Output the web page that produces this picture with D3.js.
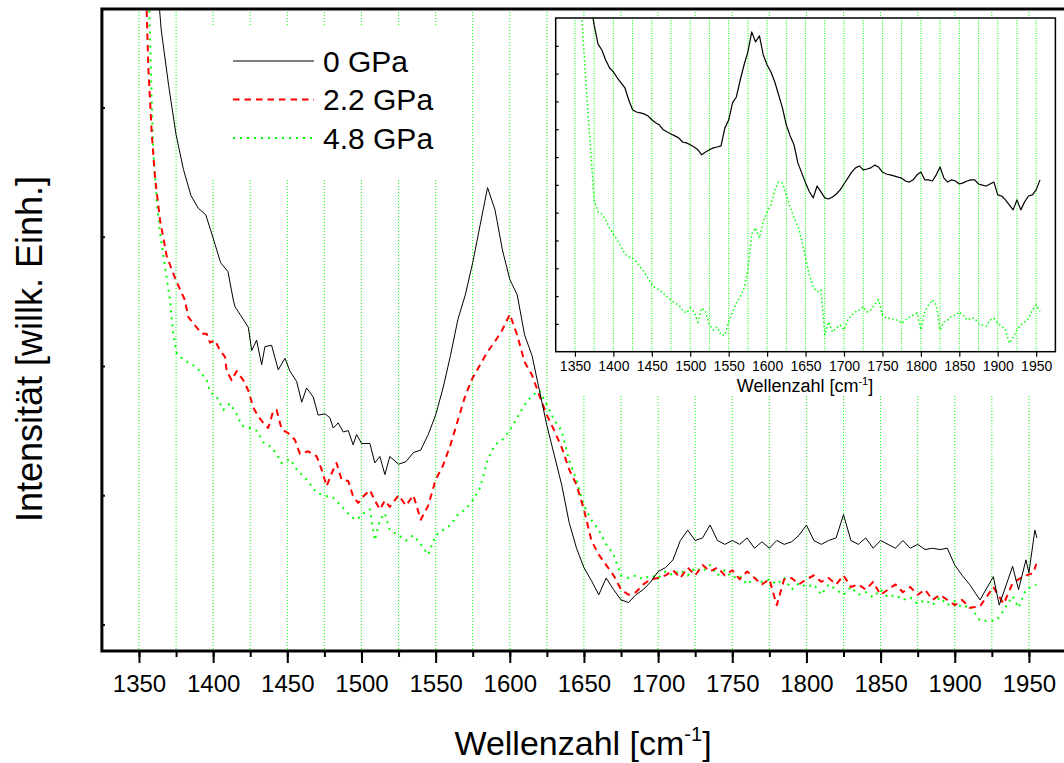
<!DOCTYPE html>
<html>
<head>
<meta charset="utf-8">
<script src="https://cdn.jsdelivr.net/npm/d3@7"></script>
<style>
  body { margin: 0; background: #fff; }
  svg { display: block; }
  text { font-family: "Liberation Sans", Arial, Helvetica, sans-serif; fill: #000; }
</style>
</head>
<body>
<svg id="chart" width="1064" height="763"></svg>
<script>
// Raman spectra of the sample at three pressures (arbitrary intensity units)

// 0 GPa
const wn0GPa = [
  1355,1360,1365,1370,1375,1380,1385,1390,1395,1400,1405,1410,
  1413.6,1414.7,1419.2,1423.7,1426.0,1429.3,1432.7,1434.9,1439.4,1443.9,1448.4,1451.8,1456.3,1459.7,
  1463.0,1467.5,1470.8,1475.4,1478.7,1481.0,1484.3,1487.7,1491.1,1494.4,1496.7,1500.1,1505.7,1509.0,
  1512.4,1515.8,1519.1,
  1525,1530,1535,1540,1545,1550,1555,1560,1565,1570,1575,1580,1585,1590,1595,1600,1605,1610,1615,1620,
  1625,1630,1635,1640,1645,1650,1655,1660,1665,1670,1675,1680,1685,1690,1695,1700,1705,1710,1715,1720,
  1725,1730,1735,1740,1745,1750,1755,1760,1765,1770,1775,1780,1785,1790,1795,1800,1805,1810,1815,1820,
  1825,1830,1835,1840,1845,1850,1855,1860,1865,1870,1875,1880,1885,1890,1895,1900,1905,1910,
  1917,1926,1930,1939,1943,1948,1950,1954,1955.4
];
const int0GPa = [
  7.00,6.30,5.60,5.17,4.79,4.52,4.32,4.22,4.17,3.99,3.80,3.73,
  3.51,3.46,3.38,3.30,3.12,3.20,3.01,3.15,3.16,2.97,3.06,2.96,2.88,2.72,
  2.83,2.76,2.62,2.63,2.60,2.52,2.56,2.49,2.50,2.39,2.47,2.40,2.40,2.25,
  2.30,2.16,2.30,
  2.24,2.26,2.33,2.35,2.47,2.62,2.83,3.08,3.36,3.55,3.80,4.09,4.38,4.21,3.90,3.67,3.55,3.24,3.08,2.81,
  2.54,2.31,2.08,1.79,1.59,1.44,1.34,1.23,1.36,1.27,1.19,1.17,1.23,1.27,1.33,1.41,1.44,1.50,1.65,1.73,
  1.65,1.67,1.77,1.65,1.62,1.65,1.62,1.67,1.59,1.64,1.59,1.65,1.62,1.64,1.69,1.77,1.65,1.62,1.65,1.67,
  1.85,1.65,1.62,1.67,1.59,1.65,1.62,1.59,1.65,1.59,1.62,1.58,1.59,1.58,1.59,1.46,1.38,1.31,
  1.19,1.37,1.15,1.45,1.27,1.50,1.40,1.73,1.67
];

// 2.2 GPa
const wn22GPa = [
  1355.2,1356.3,1358.6,1360.8,1364.2,1368.7,1375,
  1381.0,1383.2,1386.6,1392.3,1395.6,1397.9,1401.2,1404.6,1408.0,1409.1,1412.5,1415.8,1420.3,1423.7,
  1427.0,1430.4,1433.8,1437.1,1440.5,1442.8,1446.2,1450.6,1455.1,1458.5,1464.1,1469.8,1473.1,1476.5,
  1479.9,1483.2,1486.6,1491.1,1494.4,1497.8,1501.2,1505.7,1509.0,1512.4,1515.8,1519.1,
  1525,1530,1535,1540,1545,1550,1555,1560,1565,1570,1575,1580,1585,1590,1595,1600,1605,1610,1615,1620,
  1625,1630,1635,1640,1645,1650,1655,1660,1665,1670,1675,1680,1685,1690,1695,1700,1705,1710,1715,1720,
  1725,1730,1735,1740,1745,1750,1755,1760,1765,1770,1775,1780,1785,1790,1795,1800,1805,1810,1815,1820,
  1825,1830,1835,1840,1845,1850,1855,1860,1865,1870,1875,1880,1885,1890,1895,1900,1905,1910,
  1917,1926,1933,1939,1946,1953,1955
];
const int22GPa = [
  5.75,5.31,4.80,4.46,4.13,3.85,3.66,
  3.51,3.38,3.33,3.25,3.25,3.18,3.20,3.12,3.07,2.96,2.89,2.96,2.89,2.81,
  2.68,2.61,2.56,2.52,2.65,2.66,2.51,2.48,2.43,2.32,2.34,2.30,2.20,2.07,
  2.17,2.25,2.12,2.11,1.99,1.94,1.99,2.04,1.96,1.89,1.96,1.91,
  2.00,1.92,2.00,1.81,1.92,2.12,2.23,2.39,2.58,2.77,2.91,3.01,3.11,3.19,3.28,3.40,3.24,3.03,2.93,2.77,
  2.62,2.50,2.37,2.20,2.08,1.89,1.65,1.54,1.46,1.38,1.27,1.23,1.25,1.31,1.35,1.36,1.38,1.42,1.36,1.44,
  1.38,1.46,1.41,1.44,1.38,1.42,1.35,1.41,1.36,1.31,1.35,1.15,1.35,1.36,1.31,1.35,1.38,1.33,1.36,1.31,
  1.38,1.29,1.31,1.27,1.33,1.23,1.27,1.31,1.25,1.29,1.23,1.27,1.19,1.23,1.19,1.15,1.19,1.13,
  1.14,1.29,1.16,1.32,1.37,1.40,1.47
];

// 4.8 GPa
const wn48GPa = [
  1357.0,1358.6,1359.6,1361.9,1364.2,
  1370.9,1373.1,1375.4,1379.9,1384.4,1388.9,1392.3,1395.6,1397.9,1402.4,1406.8,1411.3,1415.8,1419.2,
  1424.8,1429.3,1433.8,1439.4,1442.8,1446.2,1451.8,1456.3,1463.0,1469.8,1474.2,1481.0,1487.7,1493.4,
  1496.7,1501.2,1505.7,1507.9,1509.0,1512.4,1515.8,1519.1,
  1525,1530,1535,1540,1545,1550,1555,1560,1565,1570,1575,1580,1585,1590,1595,1600,1605,1610,1615,1620,
  1625,1630,1635,1640,1645,1650,1655,1660,1665,1670,1675,1680,1685,1690,1695,1700,1705,1710,1715,1720,
  1725,1730,1735,1740,1745,1750,1755,1760,1765,1770,1775,1780,1785,1790,1795,1800,1805,1810,1815,1820,
  1825,1830,1835,1840,1845,1850,1855,1860,1865,1870,1875,1880,1885,1890,1895,1900,1905,1910,
  1917,1928,1933,1939,1943,1948,1955
];
const int48GPa = [
  5.75,5.06,4.67,4.28,4.03,
  3.51,3.25,3.10,3.05,3.02,2.99,2.94,2.89,2.80,2.76,2.66,2.71,2.63,2.54,
  2.52,2.50,2.41,2.37,2.32,2.25,2.28,2.20,2.12,2.02,2.00,1.98,1.90,1.83,
  1.81,1.86,1.89,1.73,1.65,1.81,1.86,1.73,
  1.69,1.65,1.69,1.62,1.54,1.69,1.73,1.77,1.85,1.89,1.96,2.06,2.27,2.39,2.43,2.50,2.60,2.70,2.77,2.81,
  2.70,2.58,2.50,2.27,2.12,1.92,1.81,1.73,1.62,1.54,1.38,1.36,1.38,1.35,1.38,1.36,1.41,1.38,1.42,1.38,
  1.44,1.41,1.46,1.38,1.42,1.36,1.38,1.31,1.36,1.33,1.35,1.31,1.36,1.27,1.32,1.29,1.31,1.23,1.31,1.27,
  1.23,1.29,1.23,1.25,1.21,1.27,1.21,1.23,1.19,1.21,1.16,1.19,1.15,1.21,1.15,1.18,1.13,1.15,
  1.03,1.03,1.11,1.22,1.13,1.27,1.31
];

// Inset: 0 GPa and 4.8 GPa spectra, each scaled separately
const insetWavenumbers = [
  1355,1360,1365,1370,1375,1380,1385,1390,1395,1400,1405,1410,1415,1420,1425,1430,1435,1440,1445,1450,
  1455,1460,1465,1470,1475,1480,1485,1490,1495,1500,1505,1510,1515,1520,1525,1530,1535,1540,1545,1550,
  1555,1560,1565,1570,1575,1580,1585,1590,1595,1600,1605,1610,1615,1620,1625,1630,1635,1640,1645,1650,
  1655,1660,1665,1670,1675,1680,1685,1690,1695,1700,1705,1710,1715,1720,1725,1730,1735,1740,1745,1750,
  1755,1760,1765,1770,1775,1780,1785,1790,1795,1800,1805,1810,1815,1820,1825,1830,1835,1840,1845,1850,
  1855,1860,1865,1870,1875,1880,1885,1890,1895,1900,1905,1910,1915,1920,1925,1930,1935,1940,1945,1950,
  1955
];
const insetInt0GPa = [
  14.0,13.5,13.0,12.6,11.75,11.07,10.85,10.49,10.21,10.06,9.85,9.67,9.49,9.05,8.70,8.62,8.59,8.55,8.48,8.34,
  8.23,8.15,7.98,7.90,7.83,7.76,7.69,7.54,7.51,7.44,7.36,7.26,7.08,7.18,7.26,7.33,7.36,7.40,8.04,8.33,
  8.95,9.16,9.77,10.31,10.78,11.50,11.14,11.36,10.67,10.31,10.06,9.70,9.23,8.76,8.15,7.76,7.44,6.79,6.43,6.07,
  5.75,5.53,5.96,5.75,5.53,5.49,5.56,5.67,5.82,6.03,6.24,6.46,6.61,6.68,6.54,6.57,6.61,6.71,6.64,6.46,
  6.39,6.36,6.32,6.28,6.24,6.14,6.10,6.18,6.36,6.46,6.18,6.18,6.14,6.36,6.64,6.24,6.10,6.18,6.14,6.03,
  6.07,6.14,6.18,6.18,6.03,5.99,5.96,6.03,6.10,5.64,5.60,5.46,5.28,5.10,5.46,5.10,5.39,5.60,5.64,5.82,
  6.18
];
const insetInt48GPa = [
  13.5,11.57,9.42,7.44,5.46,5.03,4.95,4.74,4.45,4.23,4.02,3.77,3.52,3.41,3.37,3.23,3.05,2.87,2.65,2.40,
  2.29,2.22,2.11,1.97,1.86,1.75,1.68,1.50,1.39,1.57,1.43,1.07,1.57,1.43,0.96,0.78,0.89,0.60,0.60,1.07,
  1.43,1.75,1.97,2.29,2.94,4.23,4.45,4.09,4.67,5.03,5.28,5.82,6.10,6.06,5.63,5.20,4.81,4.52,4.02,3.37,
  2.76,2.33,2.15,2.22,0.60,1.07,0.71,0.85,0.96,0.78,1.14,1.32,1.43,1.50,1.62,1.43,1.50,1.71,1.86,1.32,
  1.20,1.20,1.14,1.14,1.02,1.14,1.24,1.32,1.39,0.78,1.43,1.68,1.86,1.68,0.78,1.07,1.14,1.28,1.32,1.43,
  1.32,1.14,1.20,1.20,1.02,0.96,0.92,1.14,1.20,1.02,0.92,0.78,0.31,0.53,0.78,0.96,1.07,1.20,1.50,1.68,
  1.45
];

const seriesNames = ["0 GPa", "2.2 GPa", "4.8 GPa"];
const xTickLabels = [1350,1400,1450,1500,1550,1600,1650,1700,1750,1800,1850,1900,1950];
const xMinorTicks = [1350,1375,1400,1425,1450,1475,1500,1525,1550,1575,1600,1625,1650,1675,
                     1700,1725,1750,1775,1800,1825,1850,1875,1900,1925,1950];
const yTicks = [1, 2, 3, 4, 5];
const insetYTicks = [1,2,3,4,5,6,7,8,9,10,11];

const GRID = "#00ff00";
const styles = [
  { stroke: "#000", width: 1, dash: null },
  { stroke: "#ff0000", width: 2, dash: "6.5,5" },
  { stroke: "#00ff00", width: 2, dash: "2,5" }
];

const svg = d3.select("#chart");
const defs = svg.append("defs");

// ---------- main plot ----------
const plot = { left: 101.9, right: 1066, top: 9, bottom: 651 };
const x = d3.scaleLinear().domain([1325, 1975]).range([plot.left, plot.right]);
const y = d3.scaleLinear().domain([0.795, 5.762]).range([plot.bottom, plot.top]);

defs.append("clipPath").attr("id", "plotClip")
  .append("rect").attr("x", plot.left).attr("y", plot.top)
  .attr("width", plot.right - plot.left).attr("height", plot.bottom - plot.top);

// vertical dotted grid lines
svg.append("g").selectAll("line").data(xMinorTicks).join("line")
  .attr("x1", d => x(d)).attr("x2", d => x(d))
  .attr("y1", plot.top).attr("y2", plot.bottom)
  .attr("stroke", GRID).attr("stroke-width", 1).attr("stroke-dasharray", "1,2");

// spectra (4.8 GPa drawn first, 0 GPa on top)
const mainSeries = [
  { wn: wn0GPa, val: int0GPa, style: styles[0] },
  { wn: wn22GPa, val: int22GPa, style: styles[1] },
  { wn: wn48GPa, val: int48GPa, style: styles[2] }
];
const curves = svg.append("g").attr("clip-path", "url(#plotClip)");
mainSeries.slice().reverse().forEach(s => {
  const pts = s.wn.map((w, i) => [w, s.val[i]]);
  curves.append("path").datum(pts)
    .attr("d", d3.line().x(d => x(d[0])).y(d => y(d[1])))
    .attr("fill", "none")
    .attr("stroke", s.style.stroke).attr("stroke-width", s.style.width)
    .attr("stroke-dasharray", s.style.dash)
    .attr("stroke-linejoin", "round");
});

// legend
const legend = svg.append("g");
legend.append("rect").attr("x", 196).attr("y", 25).attr("width", 258).attr("height", 153).attr("fill", "#fff");
const legendRows = [61, 99.5, 138];
seriesNames.forEach((name, i) => {
  const s = styles[i];
  legend.append("line")
    .attr("x1", 233).attr("x2", i === 2 ? 316 : 314)
    .attr("y1", legendRows[i]).attr("y2", legendRows[i])
    .attr("stroke", s.stroke).attr("stroke-width", s.width)
    .attr("stroke-dasharray", s.dash);
  legend.append("text").attr("x", 323).attr("y", legendRows[i] + 10.5)
    .attr("font-size", 30).text(name);
});

// axes
const minorAxis = d3.axisBottom(x).tickValues(xMinorTicks).tickSize(6).tickFormat("");
const majorAxis = d3.axisBottom(x).tickValues(xTickLabels).tickSize(12).tickPadding(12).tickFormat(d3.format("d"));
const gxMinor = svg.append("g").attr("transform", `translate(0,${plot.bottom})`).call(minorAxis);
const gxMajor = svg.append("g").attr("transform", `translate(0,${plot.bottom})`).call(majorAxis);
[gxMinor, gxMajor].forEach(g => {
  g.select(".domain").remove();
  g.selectAll(".tick line").attr("stroke", "#000").attr("stroke-width", 2);
});
gxMajor.selectAll(".tick text").attr("font-size", 24).attr("font-family", null).attr("fill", "#000");

const yAxis = d3.axisRight(y).tickValues(yTicks).tickSize(3).tickFormat("");
const gy = svg.append("g").attr("transform", `translate(${plot.left},0)`).call(yAxis);
gy.select(".domain").remove();
gy.selectAll(".tick line").attr("stroke", "#000").attr("stroke-width", 2);

// frame
svg.append("rect").attr("x", plot.left).attr("y", plot.top)
  .attr("width", plot.right - plot.left).attr("height", plot.bottom - plot.top)
  .attr("fill", "none").attr("stroke", "#000").attr("stroke-width", 3);

// axis titles
const xTitle = svg.append("text").attr("x", 583).attr("y", 755)
  .attr("text-anchor", "middle").attr("font-size", 34);
xTitle.append("tspan").text("Wellenzahl [cm");
xTitle.append("tspan").attr("font-size", 20).attr("dy", -14).text("-1");
xTitle.append("tspan").attr("dy", 14).text("]");

svg.append("text")
  .attr("transform", "translate(42,349) rotate(-90)")
  .attr("text-anchor", "middle").attr("font-size", 36)
  .text("Intensität [willk. Einh.]");

// ---------- inset ----------
const ins = { left: 555.7, right: 1055.4, top: 18, bottom: 351.7 };
const xi = d3.scaleLinear().domain([1325, 1975]).range([ins.left, ins.right]);
const yi = d3.scaleLinear().domain([0, 12]).range([ins.bottom, ins.top]);

svg.append("rect").attr("x", 550).attr("y", 17).attr("width", 520).attr("height", 378).attr("fill", "#fff");

defs.append("clipPath").attr("id", "insetClip")
  .append("rect").attr("x", ins.left).attr("y", ins.top)
  .attr("width", ins.right - ins.left).attr("height", ins.bottom - ins.top);

svg.append("g").selectAll("line").data(xMinorTicks).join("line")
  .attr("x1", d => xi(d)).attr("x2", d => xi(d))
  .attr("y1", ins.top).attr("y2", ins.bottom)
  .attr("stroke", GRID).attr("stroke-width", 1).attr("stroke-dasharray", "1,1.5");

const insetLine = d3.line().x((d, i) => xi(insetWavenumbers[i])).y(d => yi(d));
const insetCurves = svg.append("g").attr("clip-path", "url(#insetClip)");
insetCurves.append("path").datum(insetInt48GPa)
  .attr("d", insetLine).attr("fill", "none")
  .attr("stroke", "#00ff00").attr("stroke-width", 1.5).attr("stroke-dasharray", "1.5,2.5");
insetCurves.append("path").datum(insetInt0GPa)
  .attr("d", insetLine).attr("fill", "none")
  .attr("stroke", "#000").attr("stroke-width", 1.2).attr("stroke-linejoin", "round");

const insetXAxis = d3.axisBottom(xi).tickValues(xTickLabels).tickSize(5).tickPadding(4).tickFormat(d3.format("d"));
const gix = svg.append("g").attr("transform", `translate(0,${ins.bottom})`).call(insetXAxis);
gix.select(".domain").remove();
gix.selectAll(".tick line").attr("stroke", "#000").attr("stroke-width", 1.2);
gix.selectAll(".tick text").attr("font-size", 14).attr("font-family", null).attr("fill", "#000");

const insetYAxis = d3.axisRight(yi).tickValues(insetYTicks).tickSize(3).tickFormat("");
const giy = svg.append("g").attr("transform", `translate(${ins.left},0)`).call(insetYAxis);
giy.select(".domain").remove();
giy.selectAll(".tick line").attr("stroke", "#000").attr("stroke-width", 1.2);

svg.append("rect").attr("x", ins.left).attr("y", ins.top)
  .attr("width", ins.right - ins.left).attr("height", ins.bottom - ins.top)
  .attr("fill", "none").attr("stroke", "#000").attr("stroke-width", 1.5);

const xiTitle = svg.append("text").attr("x", 805).attr("y", 392)
  .attr("text-anchor", "middle").attr("font-size", 18);
xiTitle.append("tspan").text("Wellenzahl [cm");
xiTitle.append("tspan").attr("font-size", 11).attr("dy", -7).text("-1");
xiTitle.append("tspan").attr("dy", 7).text("]");
</script>
</body>
</html>
